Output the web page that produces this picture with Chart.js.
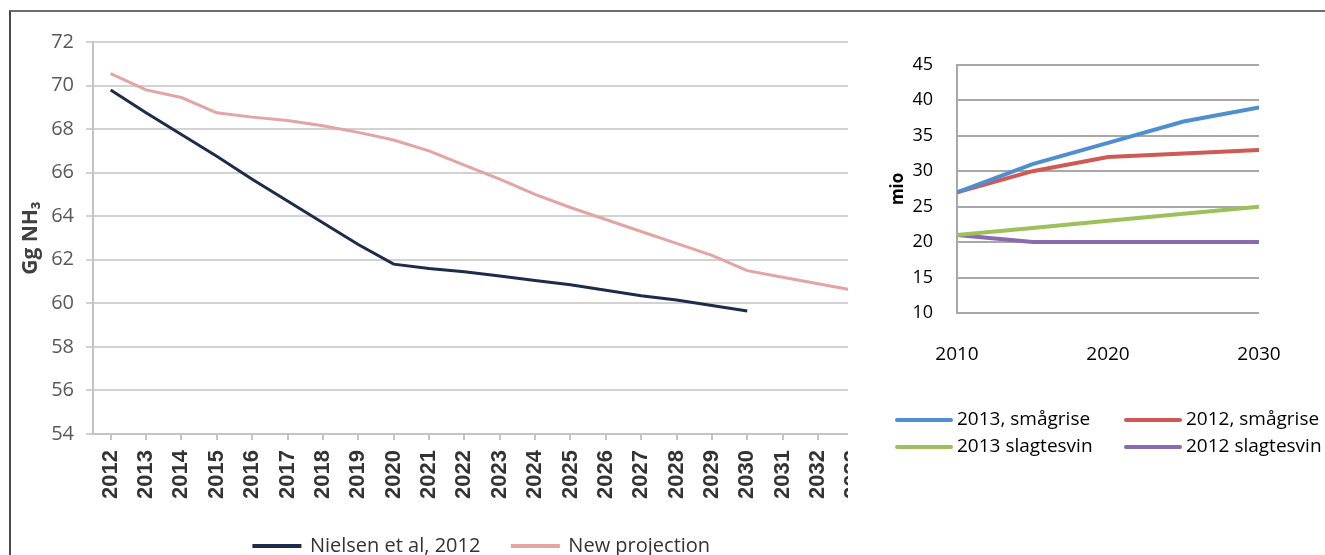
<!DOCTYPE html>
<html>
<head>
<meta charset="utf-8">
<script src="https://cdn.jsdelivr.net/npm/chart.js@4.4.1/dist/chart.umd.min.js"></script>
<style>
  html, body { margin: 0; padding: 0; background: #fff; overflow: hidden; }
  body { width: 1325px; height: 555px; position: relative; }
  #frame { position: absolute; left: 9px; top: 10px; width: 1340px; height: 570px;
           border-top: 2px solid #6e6e6e; border-left: 2px solid #4a4a4a; z-index: 5; pointer-events: none; }
  #leftWrap { position: absolute; left: 0; top: 0; width: 848px; height: 555px; overflow: hidden; }
  #leftWrap canvas { position: absolute; left: 0; top: 0; }
  #rightWrap { position: absolute; left: 870px; top: 30px; width: 480px; height: 440px; }
</style>
</head>
<body>
<div id="frame"></div>
<div id="leftWrap"><canvas id="projection" width="890" height="566"></canvas></div>
<div id="rightWrap"><canvas id="pigs" width="480" height="440"></canvas></div>
<script>
// left chart: ammonia emission projections (Gg NH3)
const years = ["2012", "2013", "2014", "2015", "2016", "2017", "2018", "2019", "2020", "2021", "2022",
  "2023", "2024", "2025", "2026", "2027", "2028", "2029", "2030", "2031", "2032", "2033"];
const nielsen2012 = [69.8, 68.75, 67.75, 66.75, 65.7, 64.7, 63.7, 62.7, 61.8, 61.6, 61.45,
  61.25, 61.05, 60.85, 60.6, 60.35, 60.15, 59.9, 59.65];
const newProjection = [70.55, 69.8, 69.45, 68.75, 68.55, 68.4, 68.15, 67.85, 67.5, 67.0, 66.35,
  65.7, 65.0, 64.4, 63.85, 63.3, 62.75, 62.2, 61.5, 61.2, 60.9, 60.6];

// right chart: number of animals (mio)
const pigYears = [2010, 2015, 2020, 2025, 2030];
const smaagrise2013 = [27, 31, 34, 37, 39];
const smaagrise2012 = [27, 30, 32, 32.5, 33];
const slagtesvin2013 = [21, 22, 23, 24, 25];
const slagtesvin2012 = [21, 20, 20, 20, 20];

Chart.defaults.font.family = "'Open Sans', sans-serif";

new Chart(document.getElementById("projection"), {
  type: "line",
  data: {
    labels: years,
    datasets: [
      {
        label: "Nielsen et al, 2012",
        data: nielsen2012,
        borderColor: "#1d2c4b",
        backgroundColor: "#1d2c4b",
        borderWidth: 3,
        pointRadius: 0,
      },
      {
        label: "New projection",
        data: newProjection,
        borderColor: "#e3a4a4",
        backgroundColor: "#e3a4a4",
        borderWidth: 3,
        pointRadius: 0,
      },
    ],
  },
  options: {
    responsive: false,
    animation: false,
    layout: { padding: { left: 14, top: 42, right: 10, bottom: 0 } },
    plugins: {
      tooltip: { enabled: false },
      legend: {
        position: "bottom",
        fullSize: false,
        labels: {
          boxWidth: 46,
          boxHeight: 1,
          padding: 32,
          color: "#333",
          font: { size: 20 },
        },
      },
    },
    scales: {
      x: {
        offset: true,
        grid: { drawOnChartArea: false, tickLength: 6, color: "#c4c4c4", lineWidth: 2 },
        border: { color: "#c4c4c4", width: 2 },
        ticks: {
          autoSkip: false,
          minRotation: 90,
          maxRotation: 90,
          padding: 10,
          color: "#333",
          font: { family: "'Liberation Sans', sans-serif", size: 22, weight: "bold" },
        },
        afterFit: (scale) => { scale.height = 70; },
      },
      y: {
        min: 54,
        max: 72,
        ticks: { stepSize: 2, padding: 12, color: "#595959", font: { size: 20 } },
        grid: { color: "#d2d2d2", lineWidth: 2, tickLength: 7 },
        border: { color: "#c4c4c4", width: 2 },
        title: {
          display: true,
          text: "Gg NH₃",
          color: "#404040",
          font: { size: 21, weight: "bold" },
        },
        afterFit: (scale) => { scale.width = 79; },
      },
    },
  },
});

const gridLegend = {
  id: "gridLegend",
  afterDraw(chart, args, opts) {
    const ctx = chart.ctx;
    ctx.save();
    ctx.font = "19px 'Open Sans', sans-serif";
    ctx.textBaseline = "middle";
    ctx.lineCap = "round";
    chart.data.datasets.forEach((ds, i) => {
      const x = opts.cols[i % 2];
      const y = chart.chartArea.bottom + opts.rows[Math.floor(i / 2)];
      ctx.strokeStyle = ds.borderColor;
      ctx.lineWidth = 4;
      ctx.beginPath();
      ctx.moveTo(x, y);
      ctx.lineTo(x + 54, y);
      ctx.stroke();
      ctx.fillStyle = "#000";
      ctx.fillText(ds.label, x + 60, y);
    });
    ctx.restore();
  },
};

const pts = (vals) => vals.map((v, i) => ({ x: pigYears[i], y: v }));

new Chart(document.getElementById("pigs"), {
  type: "line",
  data: {
    datasets: [
      { label: "2013, smågrise", data: pts(smaagrise2013), borderColor: "#4f8fd0" },
      { label: "2012, smågrise", data: pts(smaagrise2012), borderColor: "#cf5a55" },
      { label: "2013 slagtesvin", data: pts(slagtesvin2013), borderColor: "#9dc05a" },
      { label: "2012 slagtesvin", data: pts(slagtesvin2012), borderColor: "#8a6bb0" },
    ],
  },
  options: {
    responsive: false,
    animation: false,
    elements: { line: { borderWidth: 4, tension: 0 }, point: { radius: 0 } },
    layout: { padding: { left: 14, top: 29, right: 91, bottom: 77 } },
    plugins: {
      tooltip: { enabled: false },
      legend: { display: false },
      gridLegend: { cols: [27, 256], rows: [107, 134] },
    },
    scales: {
      x: {
        type: "linear",
        min: 2010,
        max: 2030,
        grid: { display: false },
        border: { display: false },
        ticks: {
          stepSize: 10,
          padding: 22,
          color: "#000",
          font: { size: 19 },
          callback: (v) => String(v),
        },
        afterFit: (scale) => { scale.height = 80; },
      },
      y: {
        min: 10,
        max: 45,
        ticks: { stepSize: 5, padding: 24, color: "#000", font: { size: 18 } },
        grid: { color: "#a8a8a8", lineWidth: 2, drawTicks: false },
        border: { color: "#a8a8a8", width: 2 },
        title: { display: true, text: "mio", color: "#000", font: { size: 17, weight: "bold" } },
        afterFit: (scale) => { scale.width = 73; },
      },
    },
  },
  plugins: [gridLegend],
});
</script>
</body>
</html>
